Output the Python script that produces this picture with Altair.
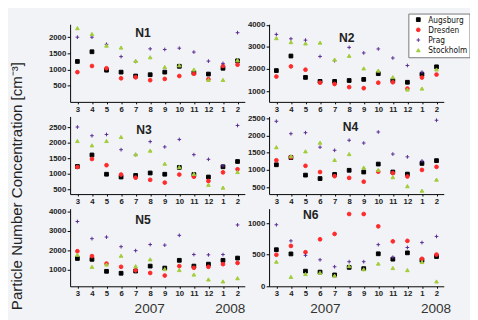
import altair as alt
import pandas as pd

months = ["3", "4", "5", "6", "7", "8", "9", "10", "11", "12", "1", "2"]
cities = ["Augsburg", "Dresden", "Prag", "Stockholm"]
years = ["2007", "2008"]
panel_names = ["N1", "N2", "N3", "N4", "N5", "N6"]

n1_augsburg = [1250, 1550, 980, 920, 800, 840, 920, 1100, 900, 860, 1040, 1270]
n1_dresden = [920, 1110, 1040, 730, 760, 670, 710, 800, 870, 700, 1110, 1150]
n1_prag = [2000, 2000, 1780, 1400, 1250, 1640, 1620, 1660, 1540, 1260, 1190, 2140]
n1_stockholm = [2280, 2100, 1740, 1680, 1270, 1380, 1080, 1130, 1000, 680, 680, 1290]

n2_augsburg = [1930, 2590, 1620, 1440, 1440, 1480, 1530, 1790, 1480, 1400, 1760, 2100]
n2_dresden = [1660, 2120, 1970, 1380, 1320, 1180, 1130, 1380, 1400, 1115, 1615, 1750]
n2_prag = [3570, 3370, 3310, 2570, 2380, 2980, 2730, 2910, 2500, 2160, 1860, 2900]
n2_stockholm = [3400, 3220, 3160, 3200, 2430, 2600, 2030, 1930, 1630, 1070, 1115, 1980]

n3_augsburg = [1240, 1610, 990, 900, 950, 1030, 990, 1210, 980, 900, 1230, 1400]
n3_dresden = [1220, 1480, 1280, 980, 880, 810, 720, 980, 910, 770, 1050, 1150]
n3_prag = [2510, 2230, 2270, 1780, 1620, 2040, 1870, 2110, 1620, 1470, 1260, 2560]
n3_stockholm = [2060, 1920, 2060, 2190, 1630, 1750, 1330, 1220, 1000, 650, 560, 1060]

n4_augsburg = [1150, 1360, 850, 750, 870, 990, 940, 1170, 940, 880, 1190, 1270]
n4_dresden = [1280, 1370, 1120, 940, 820, 770, 660, 950, 910, 810, 1000, 1090]
n4_prag = [2410, 2050, 2080, 1660, 1570, 1860, 1780, 2100, 1460, 1380, 1260, 2440]
n4_stockholm = [1660, 1400, 1540, 1790, 1290, 1460, 1070, 1000, 790, 530, 400, 720]

n5_augsburg = [1590, 1545, 935, 835, 950, 1200, 1100, 1495, 1200, 1300, 1495, 1610]
n5_dresden = [1960, 1710, 1330, 1165, 985, 850, 720, 1200, 1115, 1165, 1300, 1360]
n5_prag = [3475, 2600, 2680, 2190, 1990, 2300, 2270, 2770, 1790, 1775, 1790, 3300]
n5_stockholm = [1780, 1165, 1280, 1730, 1200, 1545, 1050, 1000, 770, 520, 420, 585]

n6_augsburg = [580, 513, 240, 225, 180, 300, 280, 515, 430, 530, 411, 472]
n6_dresden = [500, 640, 540, 745, 830, 1145, 1145, 950, 712, 720, 436, 503]
n6_prag = [975, 720, 490, 420, 310, 390, 390, 660, 460, 615, 693, 790]
n6_stockholm = [390, 150, 195, 215, 170, 320, 270, 360, 290, 257, 385, 77]

series = {
    "N1": [n1_augsburg, n1_dresden, n1_prag, n1_stockholm],
    "N2": [n2_augsburg, n2_dresden, n2_prag, n2_stockholm],
    "N3": [n3_augsburg, n3_dresden, n3_prag, n3_stockholm],
    "N4": [n4_augsburg, n4_dresden, n4_prag, n4_stockholm],
    "N5": [n5_augsburg, n5_dresden, n5_prag, n5_stockholm],
    "N6": [n6_augsburg, n6_dresden, n6_prag, n6_stockholm],
}

# layout / style (not data)
W, H = 180, 80
domains = {"N1": [0, 2400], "N2": [510, 4030], "N3": [350, 2850],
           "N4": [300, 2550], "N5": [170, 4130], "N6": [0, 1230]}
ticks = {"N1": [500, 1000, 1500, 2000], "N2": [1000, 2000, 3000, 4000],
         "N3": [500, 1000, 1500, 2000, 2500], "N4": [500, 1000, 1500, 2000, 2500],
         "N5": [1000, 2000, 3000, 4000], "N6": [0, 500, 1000]}
name_pos = {"N1": (75, 9), "N2": (80, 14), "N3": (76, 14),
            "N4": (84, 11), "N5": (75, 12), "N6": (43, 7)}
year_pos = {"N5": (82, 165), "N6": (58, 172)}

colors = ["#000000", "#ff2a2a", "#5a2b94", "#a2cc3a"]
shapes = ["square", "circle", "M-1,0L1,0M0,-1L0,1", "triangle-up"]
sizes = [15, 14, 45, 19]

FONT = "Liberation Sans, Arial, sans-serif"
NARROW = "Liberation Sans Narrow, DejaVu Sans Condensed, Liberation Sans, sans-serif"

label_expr = "[" + ",".join("'%s'" % m for m in months) + "][datum.value]"

legend = alt.Legend(
    title=None, orient="none", legendX=348.5, legendY=-11,
    fillColor="white", strokeColor="#777777", padding=2, rowPadding=1.5,
    labelFont=NARROW, labelFontSize=8.5, labelColor="#111111",
    symbolStrokeWidth=1, labelOffset=6, symbolOffset=4,
)


def panel(name):
    rows = []
    for c, vals in zip(cities, series[name]):
        for i, v in enumerate(vals):
            rows.append({"i": i, "city": c, "v": v})
    df = pd.DataFrame(rows)
    pts = alt.Chart(df).mark_point(filled=True, strokeWidth=1, opacity=1).encode(
        x=alt.X("i:Q",
                scale=alt.Scale(domain=[-0.5, 11.5], nice=False, zero=False),
                axis=alt.Axis(values=list(range(12)), labelExpr=label_expr, title=None,
                              grid=False, tickSize=2, labelPadding=1.5,
                              labelFont=FONT, labelFontSize=8, labelFontWeight="bold",
                              labelColor="#222222", domainColor="#000000", tickColor="#000000",
                              labelFlush=False, labelOverlap=False)),
        y=alt.Y("v:Q",
                scale=alt.Scale(domain=domains[name], nice=False, zero=False),
                axis=alt.Axis(values=ticks[name], title=None, grid=False, format="d",
                              tickSize=3, labelPadding=1.5,
                              labelFont=FONT, labelFontSize=8, labelFontWeight="bold",
                              labelColor="#222222", domainColor="#000000", tickColor="#000000",
                              labelFlush=False, labelOverlap=False)),
        fill=alt.Fill("city:N", scale=alt.Scale(domain=cities, range=colors), legend=legend),
        stroke=alt.Stroke("city:N", scale=alt.Scale(domain=cities, range=colors), legend=legend),
        shape=alt.Shape("city:N", scale=alt.Scale(domain=cities, range=shapes), legend=legend),
        size=alt.Size("city:N", scale=alt.Scale(domain=cities, range=sizes), legend=legend),
    )
    nx, ny = name_pos[name]
    lab = alt.Chart(pd.DataFrame({"t": [name]})).mark_text(
        font=FONT, fontSize=12.5, fontWeight="bold", color="#222222",
        align="center", baseline="middle").encode(
        text="t:N", x=alt.value(nx), y=alt.value(ny))
    layers = [pts, lab]
    if name in year_pos:
        x1, x2 = year_pos[name]
        yr = alt.Chart(pd.DataFrame({"t": years, "px": [x1, x2]})).mark_text(
            font=FONT, fontSize=14, color="#333333", align="center", baseline="middle",
            dy=24).encode(text="t:N", x=alt.X("px:Q", scale=None), y=alt.value(H))
        layers.append(yr)
    return alt.layer(*layers).properties(width=W, height=H)


chart = alt.concat(
    *[panel(n) for n in panel_names], columns=2, spacing={"row": 15, "column": 25},
    bounds="flush",
).properties(
    title=alt.TitleParams("Particle Number Concentration [cm⁻³]", orient="left",
                          anchor="middle", font=FONT, fontSize=15.5, fontWeight="normal",
                          color="#222222", offset=24, dx=-22),
    padding={"left": 2, "top": 0, "right": 0, "bottom": 0},
    background="#f1f3f6",
).configure_view(stroke=None)

chart.save("out.html", embed_options={"renderer": "svg", "actions": False})
